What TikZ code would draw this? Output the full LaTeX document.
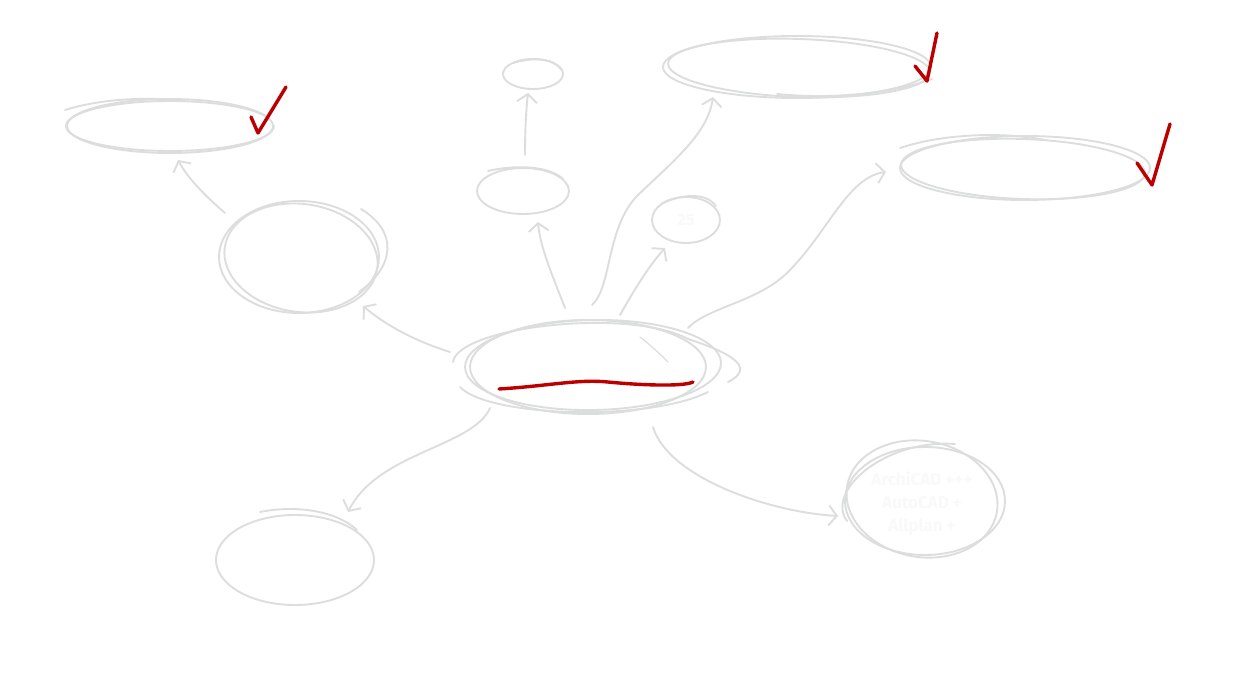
\documentclass[tikz,border=0pt]{standalone}
\usepackage{fontspec}
\newfontfamily\hand{Fira Sans}
\usetikzlibrary{shapes.geometric,arrows.meta,calc}
\definecolor{sk}{HTML}{DCDEDE}
\definecolor{rd}{HTML}{BC0000}
\definecolor{ghost}{HTML}{F8F9F9}
\begin{document}
\begin{tikzpicture}[x=1pt,y=-1pt,
  skline/.style={draw=sk,line width=1.9pt,line cap=round},
  bub/.style={ellipse,skline,inner sep=0pt},
  conn/.style={draw=sk,line width=1.9pt,line cap=round,-{Straight Barb[length=8pt,width=20pt,line width=1.9pt]}},
  tick/.style={draw=rd,line width=3.4pt,line cap=round,line join=round},
  ghosttext/.style={text=ghost,font=\hand\bfseries\fontsize{17}{23}\selectfont,align=center,inner sep=0pt}]
\useasboundingbox[fill=white] (0,0) rectangle (1244,700);

% ---------- nodes ----------
\node[bub,minimum width=206pt,minimum height=54pt] (tl) at (170,126) {};
\node[bub,minimum width=160pt,minimum height=112pt] (lc) at (299,257) {};
\node[bub,minimum width=92pt,minimum height=46pt] (st) at (523,191) {};
\node[bub,minimum width=60pt,minimum height=30pt] (tt) at (533,74) {};
\node[bub,minimum width=268pt,minimum height=62pt] (tr) at (797,67) {};
\node[bub,minimum width=68pt,minimum height=46pt] (sr) at (686,220) {};
\node[ghosttext,font=\hand\bfseries\fontsize{16}{20}\selectfont] (srt) at (sr) {25};
\node[bub,minimum width=250pt,minimum height=64pt] (rr) at (1025,168) {};
\node[bub,minimum width=236pt,minimum height=94pt] (c) at (588,367) {};
\node[bub,minimum width=158pt,minimum height=90pt] (bl) at (295,560) {};
\node[bub,minimum width=160pt,minimum height=108pt] (br) at (925,501) {};
\node[ghosttext] (brt) at (922,503) {ArchiCAD +++\\AutoCAD +\\Allplan +};

% ---------- sketch strokes ----------
% top left
\draw[skline] (tl) ++(0:104 and 25) arc[start angle=0,end angle=340,x radius=104,y radius=25];
\draw[skline] ($(tl)+(-105,-16)$) .. controls ($(tl)+(-60,-30)$) and ($(tl)+(-10,-28)$) .. ($(tl)+(15,-25)$);
% left circle
\draw[skline] ($(lc)+(2,1)$) ellipse[x radius=77,y radius=54,rotate=-8];
\draw[skline] ($(lc)+(62,-48)$) .. controls ($(lc)+(100,-25)$) and ($(lc)+(95,10)$) .. ($(lc)+(60,35)$);
% small top
\draw[skline] ($(st)+(-35,-20)$) .. controls ($(st)+(-10,-26)$) and ($(st)+(25,-26)$) .. ($(st)+(40,-12)$);
% tiny top
\draw[skline] ($(tt)+(-20,-11)$) .. controls ($(tt)+(0,-17)$) and ($(tt)+(20,-16)$) .. ($(tt)+(28,-5)$);
% top right
\draw[skline] ($(tr)+(2,1)$) ellipse[x radius=131,y radius=29,rotate=-2];
\draw[skline] ($(tr)+(-20,27)$) .. controls ($(tr)+(40,33)$) and ($(tr)+(100,25)$) .. ($(tr)+(135,12)$);
% small right
\draw[skline] ($(sr)+(-25,-16)$) .. controls ($(sr)+(-5,-26)$) and ($(sr)+(20,-28)$) .. ($(sr)+(30,-14)$);
% right
\draw[skline] ($(rr)+(-2,1)$) ellipse[x radius=122,y radius=30,rotate=-2];
\draw[skline] ($(rr)+(-125,-20)$) .. controls ($(rr)+(-80,-35)$) and ($(rr)+(-20,-36)$) .. ($(rr)+(20,-28)$);
% center
\draw[skline] ($(c)+(5,-2)$) ellipse[x radius=128,y radius=45,rotate=1];
\draw[skline] (c) ++(-135,-5) .. controls ($(c)+(-130,-40)$) and ($(c)+(40,-60)$) .. ($(c)+(100,-28)$) .. controls ($(c)+(140,-15)$) and ($(c)+(170,0)$) .. ($(c)+(140,15)$);
\draw[skline] ($(c)+(-128,20)$) .. controls ($(c)+(-100,50)$) and ($(c)+(60,55)$) .. ($(c)+(120,25)$);
\draw[skline,line width=1.2pt] ($(c)+(52,-30)$) .. controls ($(c)+(65,-20)$) and ($(c)+(75,-10)$) .. ($(c)+(80,-5)$);
% bottom left
\draw[skline] ($(bl)+(-35,-48)$) .. controls ($(bl)+(0,-55)$) and ($(bl)+(40,-50)$) .. ($(bl)+(62,-30)$);
% bottom right
\draw[skline] ($(br)+(-3,-2)$) ellipse[x radius=76,y radius=58,rotate=-10];
\draw[skline] ($(br)+(-78,20)$) .. controls ($(br)+(-100,-10)$) and ($(br)+(-40,-62)$) .. ($(br)+(30,-57)$);

% ---------- connectors ----------
\draw[conn] ($(c)+(-138,-15)$) .. controls ($(c)+(-170,-25)$) and ($(c)+(-200,-40)$) .. ($(lc)+(64,49)$);
\draw[conn] ($(lc)+(-74,-44)$) .. controls ($(lc)+(-95,-62)$) and ($(lc)+(-112,-80)$) .. ($(tl)+(8,34)$);
\draw[conn] ($(c)+(-23,-59)$) .. controls ($(c)+(-35,-90)$) and ($(c)+(-48,-120)$) .. ($(st)+(15,31)$);
\draw[conn] ($(st)+(2,-36)$) .. controls ($(st)+(2,-60)$) and ($(st)+(3,-80)$) .. ($(tt)+(-5,19)$);
\draw[conn] ($(c)+(4,-62)$) .. controls ($(c)+(24,-80)$) and ($(c)+(18,-140)$) .. ($(c)+(50,-172)$) .. controls ($(c)+(90,-210)$) and ($(c)+(120,-235)$) .. ($(tr)+(-84,30)$);
\draw[conn] ($(c)+(32,-52)$) .. controls ($(c)+(45,-75)$) and ($(c)+(60,-100)$) .. ($(sr)+(-21,28)$);
\draw[conn] ($(c)+(100,-39)$) .. controls ($(c)+(120,-60)$) and ($(c)+(170,-65)$) .. ($(c)+(200,-95)$) .. controls ($(c)+(240,-135)$) and ($(c)+(260,-190)$) .. ($(rr)+(-139,4)$);
\draw[conn] ($(c)+(-98,41)$) .. controls ($(c)+(-115,80)$) and ($(c)+(-210,85)$) .. ($(bl)+(53,-48)$);
\draw[conn] ($(c)+(65,60)$) .. controls ($(c)+(80,110)$) and ($(c)+(180,145)$) .. ($(br)+(-87,15)$);

% ---------- red marks ----------
\draw[tick] ($(c)+(-89,22)$) .. controls ($(c)+(-40,19)$) and ($(c)+(-10,12)$) .. ($(c)+(20,15)$) .. controls ($(c)+(50,18)$) and ($(c)+(95,20)$) .. ($(c)+(105,15)$);
\draw[tick] ($(tl)+(81,-9)$) -- ($(tl)+(88,7)$) -- ($(tl)+(116,-39)$);
\draw[tick] ($(tr)+(118,-1)$) -- ($(tr)+(130,14)$) -- ($(tr)+(140,-34)$);
\draw[tick] ($(rr)+(112,-5)$) -- ($(rr)+(127,17)$) -- ($(rr)+(145,-44)$);
\end{tikzpicture}
\end{document}
